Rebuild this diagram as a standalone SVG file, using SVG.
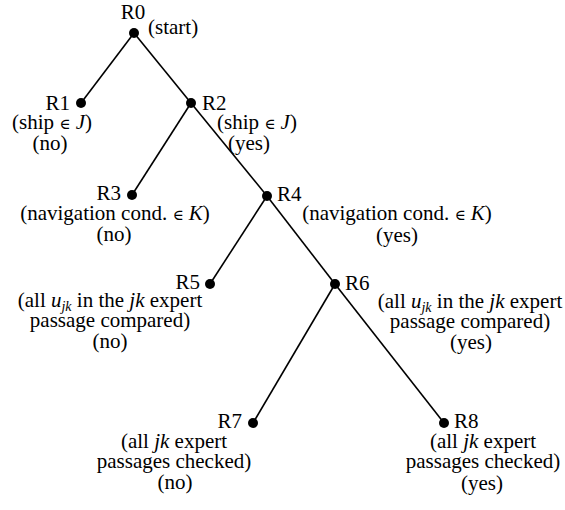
<svg xmlns="http://www.w3.org/2000/svg" width="565" height="510" viewBox="0 0 565 510">
<rect width="565" height="510" fill="#fff"/>
<g id="edges" stroke="#000" stroke-width="1.6">
<line x1="134" y1="33" x2="81" y2="103"/>
<line x1="134" y1="33" x2="191" y2="103"/>
<line x1="191" y1="103" x2="132" y2="195"/>
<line x1="191" y1="103" x2="267" y2="196"/>
<line x1="267" y1="196" x2="210" y2="284"/>
<line x1="267" y1="196" x2="335" y2="284"/>
<line x1="335" y1="284" x2="253" y2="423"/>
<line x1="335" y1="284" x2="444" y2="423"/>
</g>
<g id="R0">
<circle cx="134" cy="33" r="5" fill="#000"/>
<text style="font-family:'Liberation Serif',serif;font-size:21px" text-anchor="middle" x="133" y="19">R0</text>
<text style="font-family:'Liberation Serif',serif;font-size:21px" x="148" y="34">(start)</text>
</g>
<g id="R1">
<circle cx="81" cy="103" r="5" fill="#000"/>
<text style="font-family:'Liberation Serif',serif;font-size:21px" text-anchor="end" x="70" y="110">R1</text>
<text style="font-family:'Liberation Serif',serif;font-size:21px" text-anchor="middle" x="52" y="129">(ship <tspan style="font-family:'DejaVu Serif',serif;font-size:15px">&#8712;</tspan> <tspan font-style="italic">J</tspan>)</text>
<text style="font-family:'Liberation Serif',serif;font-size:21px" text-anchor="middle" x="50" y="150">(no)</text>
</g>
<g id="R2">
<circle cx="191" cy="103" r="5" fill="#000"/>
<text style="font-family:'Liberation Serif',serif;font-size:21px" x="202" y="110">R2</text>
<text style="font-family:'Liberation Serif',serif;font-size:21px" x="217" y="129">(ship <tspan style="font-family:'DejaVu Serif',serif;font-size:15px">&#8712;</tspan> <tspan font-style="italic">J</tspan>)</text>
<text style="font-family:'Liberation Serif',serif;font-size:21px" text-anchor="middle" x="249" y="150">(yes)</text>
</g>
<g id="R3">
<circle cx="132" cy="195" r="5" fill="#000"/>
<text style="font-family:'Liberation Serif',serif;font-size:21px" text-anchor="end" x="121" y="200">R3</text>
<text style="font-family:'Liberation Serif',serif;font-size:21px" text-anchor="middle" x="115" y="220">(navigation cond.  <tspan style="font-family:'DejaVu Serif',serif;font-size:15px">&#8712;</tspan> <tspan font-style="italic">K</tspan>)</text>
<text style="font-family:'Liberation Serif',serif;font-size:21px" text-anchor="middle" x="114" y="241">(no)</text>
</g>
<g id="R4">
<circle cx="267" cy="196" r="5" fill="#000"/>
<text style="font-family:'Liberation Serif',serif;font-size:21px" x="277" y="201">R4</text>
<text style="font-family:'Liberation Serif',serif;font-size:21px" text-anchor="middle" x="397" y="220">(navigation cond.  <tspan style="font-family:'DejaVu Serif',serif;font-size:15px">&#8712;</tspan> <tspan font-style="italic">K</tspan>)</text>
<text style="font-family:'Liberation Serif',serif;font-size:21px" text-anchor="middle" x="397" y="242">(yes)</text>
</g>
<g id="R5">
<circle cx="210" cy="284" r="5" fill="#000"/>
<text style="font-family:'Liberation Serif',serif;font-size:21px" text-anchor="end" x="200" y="289">R5</text>
<text style="font-family:'Liberation Serif',serif;font-size:21px" text-anchor="middle" x="110" y="307">(all <tspan font-style="italic">u</tspan><tspan style="font-size:14px" font-style="italic" dy="4">jk</tspan><tspan dy="-4"> in the </tspan><tspan font-style="italic">jk</tspan> expert</text>
<text style="font-family:'Liberation Serif',serif;font-size:21px" text-anchor="middle" x="110" y="327">passage compared)</text>
<text style="font-family:'Liberation Serif',serif;font-size:21px" text-anchor="middle" x="110" y="348">(no)</text>
</g>
<g id="R6">
<circle cx="335" cy="284" r="5" fill="#000"/>
<text style="font-family:'Liberation Serif',serif;font-size:21px" x="345" y="290">R6</text>
<text style="font-family:'Liberation Serif',serif;font-size:21px" text-anchor="middle" x="470" y="308">(all <tspan font-style="italic">u</tspan><tspan style="font-size:14px" font-style="italic" dy="4">jk</tspan><tspan dy="-4"> in the </tspan><tspan font-style="italic">jk</tspan> expert</text>
<text style="font-family:'Liberation Serif',serif;font-size:21px" text-anchor="middle" x="470" y="328">passage compared)</text>
<text style="font-family:'Liberation Serif',serif;font-size:21px" text-anchor="middle" x="471" y="349">(yes)</text>
</g>
<g id="R7">
<circle cx="253" cy="423" r="5" fill="#000"/>
<text style="font-family:'Liberation Serif',serif;font-size:21px" text-anchor="end" x="242" y="428">R7</text>
<text style="font-family:'Liberation Serif',serif;font-size:21px" text-anchor="middle" x="174" y="448">(all <tspan font-style="italic">jk</tspan> expert</text>
<text style="font-family:'Liberation Serif',serif;font-size:21px" text-anchor="middle" x="174" y="468">passages checked)</text>
<text style="font-family:'Liberation Serif',serif;font-size:21px" text-anchor="middle" x="175" y="489">(no)</text>
</g>
<g id="R8">
<circle cx="444" cy="423" r="5" fill="#000"/>
<text style="font-family:'Liberation Serif',serif;font-size:21px" x="454" y="428">R8</text>
<text style="font-family:'Liberation Serif',serif;font-size:21px" text-anchor="middle" x="483" y="448">(all <tspan font-style="italic">jk</tspan> expert</text>
<text style="font-family:'Liberation Serif',serif;font-size:21px" text-anchor="middle" x="483" y="468">passages checked)</text>
<text style="font-family:'Liberation Serif',serif;font-size:21px" text-anchor="middle" x="482" y="490">(yes)</text>
</g>
</svg>
